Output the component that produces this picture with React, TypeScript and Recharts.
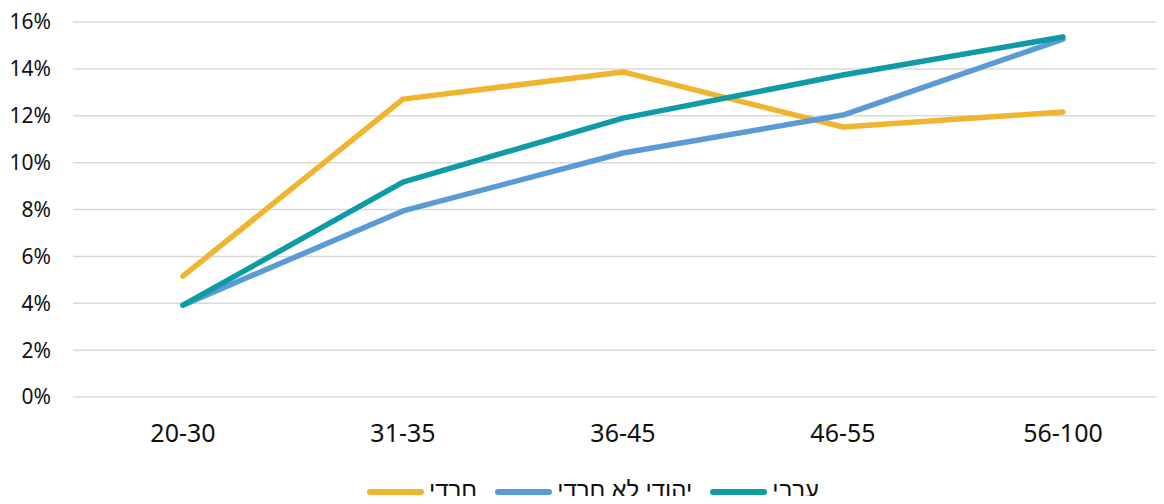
import React from "react";
import { LineChart, Line, XAxis, YAxis, CartesianGrid, Legend } from "recharts";

const categories = ["20-30", "31-35", "36-45", "46-55", "56-100"];
const haredi = [5.16, 12.71, 13.87, 11.52, 12.16];
const jewishNonHaredi = [3.92, 7.94, 10.41, 12.03, 15.27];
const arab = [3.92, 9.17, 11.9, 13.74, 15.36];
const yTicks = [0, 2, 4, 6, 8, 10, 12, 14, 16];

const seriesNames = ["חרדי", "יהודי לא חרדי", "ערבי"];
const seriesColors = ["#EFB52F", "#5B9BD5", "#0E9BA5"];

const data = categories.map((c, i) => ({
  cat: c,
  s0: haredi[i],
  s1: jewishNonHaredi[i],
  s2: arab[i],
}));

const FONT = "'Noto Sans', sans-serif";

const LegendContent = () => (
  <div
    style={{
      display: "flex",
      justifyContent: "center",
      alignItems: "center",
      fontFamily: FONT,
      fontSize: 24,
      color: "#111",
      height: 40,
      paddingLeft: 22,
      gap: 18,
    }}
  >
    {seriesNames.map((n, i) => (
      <div key={n} style={{ display: "flex", alignItems: "center" }}>
        <div
          style={{
            width: 57,
            height: 6,
            borderRadius: 3,
            background: seriesColors[i],
            marginRight: 5,
          }}
        />
        <span style={{ direction: "rtl", position: "relative", top: -4 }}>{n}</span>
      </div>
    ))}
  </div>
);

export default function App() {
  return (
    <div style={{ margin: -8, width: 1164, height: 504, overflow: "hidden", position: "relative" }}>
      <LineChart
        width={1180}
        height={520}
        data={data}
        margin={{ top: 22, right: 7, left: 0, bottom: 0 }}
      >
        <CartesianGrid vertical={false} stroke="#D9D9D9" strokeWidth={1.5} />
        <XAxis
          dataKey="cat"
          axisLine={false}
          tickLine={false}
          tickSize={0}
          tickMargin={27}
          height={83}
          padding={{ left: 110, right: 110 }}
          tick={{ fill: "#111", fontSize: 25, fontFamily: FONT }}
        />
        <YAxis
          domain={[0, 16]}
          ticks={yTicks}
          width={73}
          axisLine={false}
          tickLine={false}
          tickSize={0}
          tickMargin={22}
          tickFormatter={(v: number) => `${v}%`}
          tick={{ fill: "#111", fontSize: 21, fontFamily: FONT }}
        />
        <Legend
          verticalAlign="bottom"
          height={40}
          wrapperStyle={{ top: 472, left: 0, width: 1164 }}
          content={<LegendContent />}
        />
        {["s0", "s1", "s2"].map((k, i) => (
          <Line
            key={k}
            dataKey={k}
            name={seriesNames[i]}
            stroke={seriesColors[i]}
            strokeWidth={5.5}
            strokeLinecap="round"
            strokeLinejoin="round"
            dot={false}
            activeDot={false}
            isAnimationActive={false}
          />
        ))}
      </LineChart>
    </div>
  );
}
